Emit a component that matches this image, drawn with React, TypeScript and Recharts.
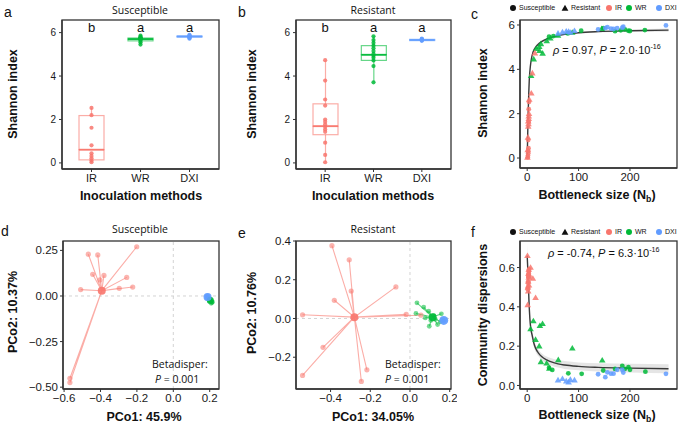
import React from 'react';
import { ComposedChart, ScatterChart, Scatter, Bar, Line, Area, XAxis, YAxis, ReferenceLine } from 'recharts';

const FONT = "'Liberation Sans', Arial, Helvetica, sans-serif";
const FONT2 = "'Open Sans', 'Noto Sans', sans-serif";
const C_IR = '#F8766D';
const C_WR = '#00BA38';
const C_DXI = '#619CFF';
const colorOf = (m: string) => (m === 'IR' ? C_IR : m === 'WR' ? C_WR : C_DXI);

// ---------------- data ----------------
const methods = ['IR', 'WR', 'DXI'];
const sigLetters = ['b', 'a', 'a'];
const letterLevel = 6.25;

// panel a: Shannon index (Susceptible)
const aIR = [2.53, 2.2, 1.62, 0.81, 0.44, 0.32, 0.21, 0.11, 0.03];
const aWR = [5.86, 5.8, 5.77, 5.76, 5.74, 5.72, 5.7, 5.68, 5.62, 5.55, 5.45];
const aDXI = [5.9, 5.87, 5.84, 5.82, 5.8, 5.78, 5.75, 5.72];
// [min, q1, median, q3, max]
const aBoxIR = [0.03, 0.14, 0.61, 2.18, 2.53];
const aBoxWR = [5.45, 5.62, 5.7, 5.75, 5.86];
const aBoxDXI = [5.72, 5.79, 5.82, 5.85, 5.9];

// panel b: Shannon index (Resistant)
const bIR = [4.73, 3.79, 2.92, 2.64, 2.0, 1.89, 1.77, 1.66, 1.54, 1.43, 0.93, 0.37, 0.03];
const bWR = [5.83, 5.66, 5.53, 5.4, 5.28, 5.15, 5.02, 4.93, 4.84, 4.72, 4.46, 3.71];
const bDXI = [5.72, 5.69, 5.66, 5.64, 5.62, 5.7];
const bBoxIR = [0.03, 1.3, 1.69, 2.72, 4.73];
const bBoxWR = [3.71, 4.72, 4.98, 5.4, 5.83];
const bBoxDXI = [5.6, 5.63, 5.66, 5.69, 5.72];

// panel c: Shannon index vs bottleneck size
const cIRsNb = [1, 1.5, 2, 2, 2.5, 2, 3, 3, 3.5];
const cIRsH = [0.03, 0.11, 0.21, 0.32, 0.44, 0.81, 1.62, 2.2, 2.53];
const cIRrNb = [0.5, 1, 1.5, 2, 2.5, 2, 3, 3, 3.5, 4, 8, 10, 15];
const cIRrH = [0.03, 0.37, 0.93, 1.43, 1.54, 1.66, 1.77, 1.89, 2.0, 2.64, 2.92, 3.83, 4.73];
const cWRsNb = [42.5, 51, 79, 105, 148, 171, 182, 190, 197, 200, 229];
const cWRsH = [5.47, 5.5, 5.62, 5.74, 5.86, 5.72, 5.76, 5.8, 5.74, 5.73, 5.77];
const cWRrNb = [7.6, 12.7, 17.8, 23.5, 24, 26.7, 30, 38, 45, 60, 87.6, 145];
const cWRrH = [3.71, 4.46, 4.93, 5.02, 4.84, 5.15, 4.72, 5.28, 5.4, 5.53, 5.66, 5.83];
const cDXIrNb = [60, 68.6, 76, 80.6, 84, 92];
const cDXIrH = [5.62, 5.68, 5.72, 5.7, 5.66, 5.74];
const cDXIsNb = [138, 152, 156, 163, 168, 175, 185, 187, 270];
const cDXIsH = [5.8, 5.86, 5.9, 5.84, 5.82, 5.86, 5.88, 5.92, 5.98];
const cFitX = [0, 0.5, 1, 1.5, 2, 3, 4, 6, 8, 11, 15, 20, 28, 41, 55, 73, 100, 138, 200, 275];
const cFitY = [0, 0.5, 1.1, 1.6, 2.1, 2.9, 3.5, 4.1, 4.45, 4.75, 4.95, 5.1, 5.25, 5.4, 5.5, 5.58, 5.65, 5.7, 5.74, 5.77];
const cFitLo = [-0.1, 0.38, 0.96, 1.45, 1.95, 2.75, 3.36, 3.98, 4.35, 4.67, 4.88, 5.04, 5.2, 5.35, 5.46, 5.54, 5.61, 5.66, 5.69, 5.7];
const cFitHi = [0.1, 0.62, 1.24, 1.75, 2.25, 3.05, 3.64, 4.22, 4.55, 4.83, 5.02, 5.16, 5.3, 5.45, 5.54, 5.62, 5.69, 5.74, 5.79, 5.84];

// panel f: community dispersion vs bottleneck size
const fIRsNb = [1, 1.5, 2, 2, 2.5, 2, 3, 3, 3.5];
const fIRsD = [0.49, 0.5, 0.52, 0.53, 0.55, 0.56, 0.57, 0.58, 0.59];
const fIRrNb = [0.5, 1, 1.5, 2, 2.5, 2, 3, 3, 3.5, 4, 6.5, 11, 16.3];
const fIRrD = [0.66, 0.41, 0.5, 0.53, 0.57, 0.48, 0.55, 0.59, 0.51, 0.56, 0.6, 0.544, 0.446];
const fWRsNb = [42.5, 48.8, 80, 106, 148, 171, 185, 190, 197, 200, 230];
const fWRsD = [0.09, 0.079, 0.062, 0.059, 0.076, 0.084, 0.1, 0.084, 0.093, 0.08, 0.07];
const fWRrNb = [6.5, 12, 16.3, 23.4, 24.7, 26.7, 29.9, 37.8, 43, 60.5, 87.8, 146];
const fWRrD = [0.287, 0.328, 0.233, 0.2, 0.304, 0.12, 0.314, 0.113, 0.087, 0.13, 0.189, 0.128];
const fDXIrNb = [60, 68.6, 76, 80.6, 84, 92];
const fDXIrD = [0.027, 0.034, 0.022, 0.017, 0.03, 0.027];
const fDXIsNb = [138, 152, 156, 163, 168, 175, 185, 187, 270];
const fDXIsD = [0.057, 0.042, 0.067, 0.06, 0.06, 0.08, 0.08, 0.066, 0.059];
const fFitX = [0, 1, 2, 3.3, 5.2, 7, 9.7, 13, 16.3, 22, 28, 38, 47, 60, 73, 100, 138, 200, 275];
const fFitY = [0.66, 0.6, 0.55, 0.44, 0.34, 0.29, 0.255, 0.215, 0.19, 0.165, 0.147, 0.13, 0.12, 0.11, 0.104, 0.097, 0.092, 0.088, 0.085];
const fFitLo = [0.6, 0.55, 0.5, 0.4, 0.31, 0.265, 0.232, 0.195, 0.172, 0.148, 0.13, 0.113, 0.102, 0.091, 0.084, 0.077, 0.071, 0.066, 0.062];
const fFitHi = [0.72, 0.65, 0.6, 0.48, 0.37, 0.315, 0.278, 0.235, 0.208, 0.182, 0.164, 0.147, 0.138, 0.129, 0.124, 0.117, 0.113, 0.11, 0.108];

// panel d: PCoA (Susceptible)
const dIRcent = [-0.393, 0.029];
const dIRx = [-0.201, -0.467, -0.415, -0.443, -0.381, -0.403, -0.256, -0.509, -0.297, -0.223, -0.568, -0.568];
const dIRy = [0.27, 0.229, 0.225, 0.119, 0.113, 0.088, 0.102, 0.035, 0.042, 0.049, -0.451, -0.475];
const dWRcent = [0.203, -0.024];
const dWRx = [0.195, 0.2, 0.205, 0.21, 0.212, 0.2, 0.208, 0.215];
const dWRy = [-0.012, -0.02, -0.025, -0.03, -0.036, -0.03, -0.04, -0.033];
const dDXIcent = [0.188, -0.006];
const dDXIx = [0.183, 0.186, 0.19, 0.192, 0.188, 0.185];
const dDXIy = [-0.002, -0.008, -0.004, -0.012, 0.002, -0.014];

// panel e: PCoA (Resistant)
const eIRcent = [-0.28, 0.007];
const eIRx = [-0.393, -0.306, -0.296, -0.381, -0.071, -0.541, -0.019, 0.055, -0.438, -0.541, -0.217, -0.245];
const eIRy = [0.376, 0.303, 0.142, 0.094, 0.163, 0.019, 0.021, 0.017, -0.149, -0.294, -0.265, -0.325];
const eWRcent = [0.114, 0.007];
const eWRx = [0.035, 0.069, 0.03, 0.094, 0.097, 0.139, 0.158, 0.077, 0.128, 0.153, 0.12, 0.105];
const eWRy = [0.081, 0.059, 0.026, 0.038, -0.04, -0.031, 0.024, 0.003, -0.005, -0.017, 0.015, -0.01];
const eDXIcent = [0.17, -0.01];
const eDXIx = [0.165, 0.172, 0.168, 0.175];
const eDXIy = [-0.005, -0.015, -0.012, -0.006];

// ---------------- helpers ----------------
type Rect = { x0: number; y0: number; x1: number; y1: number };
const PAD = { l: 44, r: 6, t: 6, b: 26 };
const chartBox = (r: Rect) => ({
  left: r.x0 - PAD.l,
  top: r.y0 - PAD.t,
  width: r.x1 - r.x0 + PAD.l + PAD.r,
  height: r.y1 - r.y0 + PAD.t + PAD.b,
});
const MARGIN = { top: PAD.t, right: PAD.r, left: 0, bottom: 0 };
const fmtNum = (d: number) => (v: number) => (v < 0 ? '\u2212' : '') + Math.abs(v).toFixed(d);
const AXIS_LINE = { stroke: '#333', strokeWidth: 1.3 };

function Txt(props: {
  x: number;
  y: number;
  size?: number;
  bold?: boolean;
  anchor?: 'start' | 'middle' | 'end';
  rotate?: boolean;
  family?: string;
  color?: string;
  children: React.ReactNode;
}) {
  const { x, y, size = 12, bold = false, anchor = 'middle', rotate = false, family = FONT, color = '#111', children } = props;
  const tx = anchor === 'middle' ? '-50%' : anchor === 'end' ? '-100%' : '0';
  return (
    <div
      style={{
        position: 'absolute',
        left: x,
        top: y,
        transform: `translate(${tx}, -50%)${rotate ? ' rotate(-90deg)' : ''}`,
        fontSize: size,
        fontWeight: bold ? 700 : 400,
        fontFamily: family,
        color,
        whiteSpace: 'nowrap',
        lineHeight: 1.1,
      }}
    >
      {children}
    </div>
  );
}

const EmptyShape = () => <g />;

const WhiskerShape = (p: any) => {
  const { x, y, width, height, payload } = p;
  if (!payload || x == null) return <g />;
  const cx = x + width / 2;
  return <line x1={cx} x2={cx} y1={y} y2={y + height} stroke={colorOf(payload.cat)} strokeOpacity={0.6} strokeWidth={1.2} />;
};
const BoxLowerShape = (p: any) => {
  const { x, y, width, height, payload } = p;
  if (!payload || x == null) return <g />;
  const c = colorOf(payload.cat);
  return (
    <g>
      <rect x={x} y={y} width={width} height={Math.max(height, 0)} fill="none" stroke={c} strokeOpacity={0.6} strokeWidth={1.2} />
      <line x1={x} x2={x + width} y1={y} y2={y} stroke={c} strokeOpacity={0.85} strokeWidth={1.8} />
    </g>
  );
};
const BoxUpperShape = (p: any) => {
  const { x, y, width, height, payload } = p;
  if (!payload || x == null) return <g />;
  const c = colorOf(payload.cat);
  return <rect x={x} y={y} width={width} height={Math.max(height, 0)} fill="none" stroke={c} strokeOpacity={0.6} strokeWidth={1.2} />;
};
const BoxPointShape = (p: any) => {
  const { cx, cy, payload } = p;
  if (cx == null || !payload) return <g />;
  return <circle cx={cx} cy={cy} r={2.1} fill={colorOf(payload.cat)} fillOpacity={0.85} />;
};
const LetterShape = (p: any) => {
  const { cx, cy, payload } = p;
  if (cx == null || !payload) return <g />;
  return (
    <text x={cx} y={cy} textAnchor="middle" dominantBaseline="central" fontSize={13} fontFamily={FONT} fill="#111">
      {payload.t}
    </text>
  );
};

const dotShape = (color: string, r: number, op: number) => (p: any) =>
  p.cx == null ? <g /> : <circle cx={p.cx} cy={p.cy} r={r} fill={color} fillOpacity={op} />;
const triShape = (color: string, s: number, op: number) => (p: any) => {
  if (p.cx == null) return <g />;
  const { cx, cy } = p;
  return (
    <polygon
      points={`${cx},${cy - s} ${cx - s * 1.0},${cy + s * 0.7} ${cx + s * 1.0},${cy + s * 0.7}`}
      fill={color}
      fillOpacity={op}
    />
  );
};

const tickLine = { stroke: '#333', strokeWidth: 1 };

// ---------------- panels ----------------
function BoxPanel({ r, boxes, pts, yTickSize }: { r: Rect; boxes: number[][]; pts: number[][]; yTickSize: number }) {
  const cb = chartBox(r);
  const table = methods.map((m, i) => {
    const [mn, q1, md, q3, mx] = boxes[i];
    return { cat: m, base: mn, lw: q1 - mn, lb: md - q1, ub: q3 - md, uw: mx - q3 };
  });
  const points = methods.flatMap((m, i) => pts[i].map((v) => ({ cat: m, v })));
  const letters = methods.map((m, i) => ({ cat: m, v: letterLevel, t: sigLetters[i] }));
  return (
    <div style={{ position: 'absolute', left: cb.left, top: cb.top }}>
      <ComposedChart width={cb.width} height={cb.height} data={table} margin={MARGIN}>
        <XAxis
          dataKey="cat"
          type="category"
          allowDuplicatedCategory={false}
          height={PAD.b}
          padding={{ left: 5, right: 5 }}
          axisLine={AXIS_LINE}
          tickLine={tickLine}
          tickSize={3}
          tickMargin={2}
          interval={0}
          tick={{ fontSize: 11, fill: '#1a1a1a', fontFamily: FONT }}
        />
        <YAxis
          type="number"
          domain={[-0.28, 6.58]}
          allowDataOverflow
          ticks={[0, 2, 4, 6]}
          width={PAD.l}
          axisLine={AXIS_LINE}
          tickLine={tickLine}
          tickSize={3}
          tickMargin={3}
          interval={0}
          tick={{ fontSize: yTickSize, fill: '#1a1a1a', fontFamily: FONT }}
        />
        <Bar dataKey="base" stackId="s" barSize={25} isAnimationActive={false} shape={EmptyShape} />
        <Bar dataKey="lw" stackId="s" barSize={25} isAnimationActive={false} shape={WhiskerShape} />
        <Bar dataKey="lb" stackId="s" barSize={25} isAnimationActive={false} shape={BoxLowerShape} />
        <Bar dataKey="ub" stackId="s" barSize={25} isAnimationActive={false} shape={BoxUpperShape} />
        <Bar dataKey="uw" stackId="s" barSize={25} isAnimationActive={false} shape={WhiskerShape} />
        <Scatter data={points} dataKey="v" isAnimationActive={false} shape={BoxPointShape} />
        <Scatter data={letters} dataKey="v" isAnimationActive={false} shape={LetterShape} />
      </ComposedChart>
    </div>
  );
}

type Series = { nb: number[]; val: number[]; color: string; tri: boolean };

function FitPanel({
  r,
  yDomain,
  yTicks,
  yFmt,
  fitX,
  fitY,
  fitLo,
  fitHi,
  series,
}: {
  r: Rect;
  yDomain: [number, number];
  yTicks: number[];
  yFmt: (v: number) => string;
  fitX: number[];
  fitY: number[];
  fitLo: number[];
  fitHi: number[];
  series: Series[];
}) {
  const cb = chartBox(r);
  const fit = fitX.map((x, i) => ({ x, y: fitY[i], band: [fitLo[i], fitHi[i]] }));
  return (
    <div style={{ position: 'absolute', left: cb.left, top: cb.top }}>
      <ComposedChart width={cb.width} height={cb.height} data={fit} margin={MARGIN}>
        <XAxis
          dataKey="x"
          type="number"
          domain={[-14, 291.5]}
          allowDataOverflow
          ticks={[0, 100, 200]}
          height={PAD.b}
          axisLine={AXIS_LINE}
          tickLine={tickLine}
          tickSize={3}
          tickMargin={2}
          interval={0}
          tick={{ fontSize: 11.5, fill: '#1a1a1a', fontFamily: FONT }}
        />
        <YAxis
          type="number"
          domain={yDomain}
          allowDataOverflow
          ticks={yTicks}
          tickFormatter={yFmt}
          width={PAD.l}
          axisLine={AXIS_LINE}
          tickLine={tickLine}
          tickSize={3}
          tickMargin={2}
          interval={0}
          tick={{ fontSize: 11.5, fill: '#1a1a1a', fontFamily: FONT }}
        />
        {series.map((s, k) => (
          <Scatter
            key={k}
            data={s.nb.map((x, i) => ({ x, y: s.val[i] }))}
            dataKey="y"
            isAnimationActive={false}
            shape={s.tri ? triShape(s.color, 3.3, 0.85) : dotShape(s.color, 2.4, 0.85)}
          />
        ))}
        <Area dataKey="band" type="monotone" stroke="none" fill="#888" fillOpacity={0.22} isAnimationActive={false} />
        <Line dataKey="y" type="monotone" stroke="#3a3a3a" strokeWidth={1.4} dot={false} isAnimationActive={false} />
      </ComposedChart>
    </div>
  );
}

type Group = { color: string; cent: number[]; xs: number[]; ys: number[]; centR: number; ptR: number };

function PcoaPanel({
  r,
  xDomain,
  yDomain,
  xTicks,
  yTicks,
  yFmt,
  groups,
}: {
  r: Rect;
  xDomain: [number, number];
  yDomain: [number, number];
  xTicks: number[];
  yTicks: number[];
  yFmt: (v: number) => string;
  groups: Group[];
}) {
  const cb = chartBox(r);
  return (
    <div style={{ position: 'absolute', left: cb.left, top: cb.top }}>
      <ScatterChart width={cb.width} height={cb.height} margin={MARGIN}>
        <XAxis
          dataKey="x"
          type="number"
          domain={xDomain}
          allowDataOverflow
          ticks={xTicks}
          tickFormatter={fmtNum(1)}
          height={PAD.b}
          axisLine={AXIS_LINE}
          tickLine={tickLine}
          tickSize={3}
          tickMargin={2}
          interval={0}
          tick={{ fontSize: 11.5, fill: '#1a1a1a', fontFamily: FONT }}
        />
        <YAxis
          dataKey="y"
          type="number"
          domain={yDomain}
          allowDataOverflow
          ticks={yTicks}
          tickFormatter={yFmt}
          width={PAD.l}
          axisLine={AXIS_LINE}
          tickLine={tickLine}
          tickSize={3}
          tickMargin={2}
          interval={0}
          tick={{ fontSize: 11.5, fill: '#1a1a1a', fontFamily: FONT }}
        />
        <ReferenceLine x={0} stroke="#cfcfcf" strokeDasharray="3 3" strokeWidth={0.9} />
        <ReferenceLine y={0} stroke="#cfcfcf" strokeDasharray="3 3" strokeWidth={0.9} />
        {groups.map((g, k) => (
          <Scatter
            key={'l' + k}
            data={g.xs.flatMap((x, i) => [
              { x: g.cent[0], y: g.cent[1] },
              { x, y: g.ys[i] },
            ])}
            line={{ stroke: g.color, strokeOpacity: 0.6, strokeWidth: 1.1 }}
            lineType="joint"
            isAnimationActive={false}
            shape={EmptyShape}
          />
        ))}
        {groups.map((g, k) => (
          <Scatter
            key={'p' + k}
            data={g.xs.map((x, i) => ({ x, y: g.ys[i] }))}
            isAnimationActive={false}
            shape={dotShape(g.color, g.ptR, 0.55)}
          />
        ))}
        {groups.map((g, k) => (
          <Scatter
            key={'c' + k}
            data={[{ x: g.cent[0], y: g.cent[1] }]}
            isAnimationActive={false}
            shape={dotShape(g.color, g.centR, 0.9)}
          />
        ))}
      </ScatterChart>
    </div>
  );
}

function FitLegend({ y }: { y: number }) {
  const sz = 7;
  const sym = (x: number, color: string, tri: boolean) => (
    <svg style={{ position: 'absolute', left: x - 4, top: y - 4 }} width={8} height={8}>
      {tri ? <polygon points="4,0.8 0.6,6.8 7.4,6.8" fill={color} /> : <circle cx={4} cy={4} r={3} fill={color} />}
    </svg>
  );
  return (
    <>
      {sym(513, '#111', false)}
      <Txt x={519} y={y} size={sz} anchor="start">Susceptible</Txt>
      {sym(565, '#111', true)}
      <Txt x={571} y={y} size={sz} anchor="start">Resistant</Txt>
      {sym(609, C_IR, false)}
      <Txt x={615} y={y} size={sz} anchor="start">IR</Txt>
      {sym(629, C_WR, false)}
      <Txt x={635} y={y} size={sz} anchor="start">WR</Txt>
      {sym(659, C_DXI, false)}
      <Txt x={665} y={y} size={sz} anchor="start">DXI</Txt>
    </>
  );
}

const rA: Rect = { x0: 62, y0: 20, x1: 219, y1: 169 };
const rB: Rect = { x0: 296, y0: 20, x1: 451, y1: 169 };
const rC: Rect = { x0: 520, y0: 20, x1: 677, y1: 168 };
const rD: Rect = { x0: 63, y0: 241, x1: 219, y1: 389 };
const rE: Rect = { x0: 296, y0: 241, x1: 451, y1: 389 };
const rF: Rect = { x0: 520, y0: 241, x1: 677, y1: 389 };
const frames = [rA, rB, rC, rD, rE, rF];

export default function App() {
  const cSeries: Series[] = [
    { nb: cWRsNb, val: cWRsH, color: C_WR, tri: false },
    { nb: cWRrNb, val: cWRrH, color: C_WR, tri: true },
    { nb: cDXIsNb, val: cDXIsH, color: C_DXI, tri: false },
    { nb: cDXIrNb, val: cDXIrH, color: C_DXI, tri: true },
    { nb: cIRsNb, val: cIRsH, color: C_IR, tri: false },
    { nb: cIRrNb, val: cIRrH, color: C_IR, tri: true },
  ];
  const fSeries: Series[] = [
    { nb: fWRsNb, val: fWRsD, color: C_WR, tri: false },
    { nb: fWRrNb, val: fWRrD, color: C_WR, tri: true },
    { nb: fDXIsNb, val: fDXIsD, color: C_DXI, tri: false },
    { nb: fDXIrNb, val: fDXIrD, color: C_DXI, tri: true },
    { nb: fIRsNb, val: fIRsD, color: C_IR, tri: false },
    { nb: fIRrNb, val: fIRrD, color: C_IR, tri: true },
  ];
  const dGroups: Group[] = [
    { color: C_IR, cent: dIRcent, xs: dIRx, ys: dIRy, centR: 4, ptR: 2.6 },
    { color: C_WR, cent: dWRcent, xs: dWRx, ys: dWRy, centR: 3.5, ptR: 2.4 },
    { color: C_DXI, cent: dDXIcent, xs: dDXIx, ys: dDXIy, centR: 4, ptR: 2.4 },
  ];
  const eGroups: Group[] = [
    { color: C_IR, cent: eIRcent, xs: eIRx, ys: eIRy, centR: 4, ptR: 2.6 },
    { color: C_WR, cent: eWRcent, xs: eWRx, ys: eWRy, centR: 4, ptR: 2.4 },
    { color: C_DXI, cent: eDXIcent, xs: eDXIx, ys: eDXIy, centR: 4.5, ptR: 2.4 },
  ];

  return (
    <div style={{ position: 'absolute', left: 0, top: 0, width: 685, height: 424, background: '#fff' }}>
      <BoxPanel r={rA} boxes={[aBoxIR, aBoxWR, aBoxDXI]} pts={[aIR, aWR, aDXI]} yTickSize={10} />
      <BoxPanel r={rB} boxes={[bBoxIR, bBoxWR, bBoxDXI]} pts={[bIR, bWR, bDXI]} yTickSize={10} />
      <FitPanel
        r={rC}
        yDomain={[-0.45, 6.225]}
        yTicks={[0, 2, 4, 6]}
        yFmt={(v) => String(v)}
        fitX={cFitX}
        fitY={cFitY}
        fitLo={cFitLo}
        fitHi={cFitHi}
        series={cSeries}
      />
      <PcoaPanel
        r={rD}
        xDomain={[-0.606, 0.251]}
        yDomain={[-0.51, 0.3015]}
        xTicks={[-0.6, -0.4, -0.2, 0, 0.2]}
        yTicks={[-0.5, -0.25, 0, 0.25]}
        yFmt={fmtNum(2)}
        groups={dGroups}
      />
      <PcoaPanel
        r={rE}
        xDomain={[-0.574, 0.2065]}
        yDomain={[-0.364, 0.4]}
        xTicks={[-0.4, -0.2, 0, 0.2]}
        yTicks={[-0.2, 0, 0.2, 0.4]}
        yFmt={fmtNum(1)}
        groups={eGroups}
      />
      <FitPanel
        r={rF}
        yDomain={[-0.018, 0.735]}
        yTicks={[0, 0.2, 0.4, 0.6]}
        yFmt={fmtNum(1)}
        fitX={fFitX}
        fitY={fFitY}
        fitLo={fFitLo}
        fitHi={fFitHi}
        series={fSeries}
      />

      {/* panel a */}
      <Txt x={4} y={13} size={14} anchor="start">a</Txt>
      <Txt x={140} y={11} size={10.5} family={FONT2}>Susceptible</Txt>
      <Txt x={14} y={94} size={12.5} bold rotate>Shannon index</Txt>
      <Txt x={141} y={197} size={12.5} bold>Inoculation methods</Txt>

      {/* panel b */}
      <Txt x={238} y={13} size={14} anchor="start">b</Txt>
      <Txt x={373} y={11} size={10.5} family={FONT2}>Resistant</Txt>
      <Txt x={253} y={94} size={12.5} bold rotate>Shannon index</Txt>
      <Txt x={373} y={197} size={12.5} bold>Inoculation methods</Txt>

      {/* panel c */}
      <Txt x={471} y={15} size={14} anchor="start">c</Txt>
      <FitLegend y={8} />
      <Txt x={484} y={93} size={12.5} bold rotate>Shannon index</Txt>
      <Txt x={597} y={197} size={12.5} bold>
        Bottleneck size (N<sub style={{ fontSize: '0.7em' }}>b</sub>)
      </Txt>
      <Txt x={553} y={50} size={11} anchor="start">
        <i>ρ</i> = 0.97, <i>P</i> = 2.0·10<sup style={{ fontSize: '0.65em' }}>-16</sup>
      </Txt>

      {/* panel d */}
      <Txt x={1} y={232} size={14} anchor="start">d</Txt>
      <Txt x={140} y={230} size={10.5} family={FONT2}>Susceptible</Txt>
      <Txt x={14} y={312} size={12.5} bold rotate>PCo2: 10.37%</Txt>
      <Txt x={144} y={418} size={12.5} bold>PCo1: 45.9%</Txt>
      <Txt x={152} y={365} size={10.5} family={FONT2} anchor="start">Betadisper:</Txt>
      <Txt x={155} y={380} size={10.5} family={FONT2} anchor="start">
        <i>P</i> = 0.001
      </Txt>

      {/* panel e */}
      <Txt x={238} y={234} size={14} anchor="start">e</Txt>
      <Txt x={373} y={230} size={10.5} family={FONT2}>Resistant</Txt>
      <Txt x={253} y={313} size={12.5} bold rotate>PCo2: 10.76%</Txt>
      <Txt x={373} y={418} size={12.5} bold>PCo1: 34.05%</Txt>
      <Txt x={385} y={365} size={10.5} family={FONT2} anchor="start">Betadisper:</Txt>
      <Txt x={385} y={380} size={10.5} family={FONT2} anchor="start">
        <i>P</i> = 0.001
      </Txt>

      {/* panel f */}
      <Txt x={471} y={233} size={14} anchor="start">f</Txt>
      <FitLegend y={232} />
      <Txt x={484} y={315} size={12.5} bold rotate>Community dispersions</Txt>
      <Txt x={597} y={417} size={12.5} bold>
        Bottleneck size (N<sub style={{ fontSize: '0.7em' }}>b</sub>)
      </Txt>
      <Txt x={548} y={253} size={11} anchor="start">
        <i>ρ</i> = -0.74, <i>P</i> = 6.3·10<sup style={{ fontSize: '0.65em' }}>-16</sup>
      </Txt>

      {/* panel frames, drawn last */}
      <svg width={685} height={424} style={{ position: 'absolute', left: 0, top: 0 }}>
        {frames.map((r, i) => (
          <rect key={i} x={r.x0} y={r.y0} width={r.x1 - r.x0} height={r.y1 - r.y0} fill="none" stroke="#333" strokeWidth={1.3} />
        ))}
      </svg>
    </div>
  );
}
